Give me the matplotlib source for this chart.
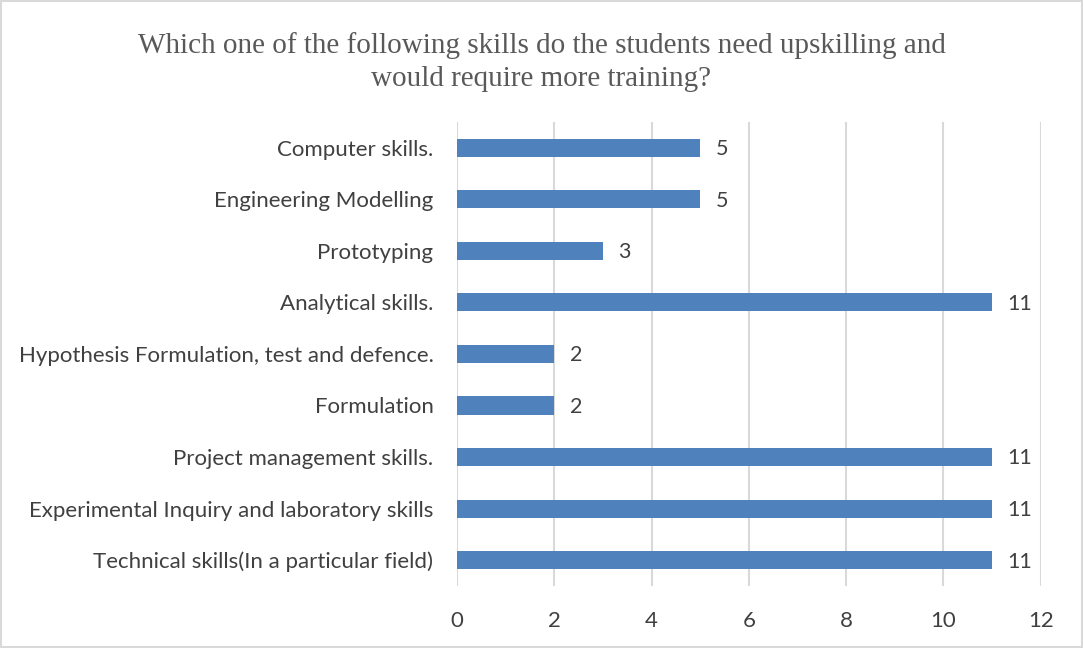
import matplotlib.pyplot as plt
from matplotlib.patches import Rectangle

skills = [
    "Technical skills(In a particular field)",
    "Experimental Inquiry and laboratory skills",
    "Project management skills.",
    "Formulation",
    "Hypothesis Formulation, test and defence.",
    "Analytical skills.",
    "Prototyping",
    "Engineering Modelling",
    "Computer skills.",
]
counts = [11, 11, 11, 2, 2, 11, 3, 5, 5]
xticks = [0, 2, 4, 6, 8, 10, 12]

title = "Which one of the following skills do the students need upskilling and\nwould require more training?"

bar_color = "#4f81bd"
grid_color = "#d9d9d9"
text_color = "#404040"


def main():
    fig = plt.figure(figsize=(10.83, 6.48), dpi=100)
    ax = fig.add_axes([0.422, 0.0957, 0.539, 0.7163])

    pos = range(len(skills))
    ax.barh(pos, counts, height=0.35, color=bar_color, zorder=3)

    for y, v in zip(pos, counts):
        ax.annotate(str(v), (v, y), xytext=(11, -1), textcoords="offset points",
                    va="center", ha="left", fontsize=15.5, color=text_color,
                    family="Lato")

    ax.set_xlim(0, 12)
    ax.set_ylim(-0.5, len(skills) - 0.5)
    ax.set_xticks(xticks)
    ax.set_yticks(list(pos))
    ax.set_yticklabels(skills)
    ax.grid(axis="x", color=grid_color, linewidth=1.5, zorder=0)
    for s in ax.spines.values():
        s.set_visible(False)
    ax.tick_params(axis="both", length=0, labelsize=16, labelcolor=text_color)
    ax.tick_params(axis="x", pad=18)
    ax.tick_params(axis="y", pad=17)
    for lab in ax.get_xticklabels() + ax.get_yticklabels():
        lab.set_family("Lato")

    fig.text(0.5, 0.905, title, ha="center", va="center", fontsize=21,
             family="Liberation Serif", color="#595959", linespacing=1.35)

    # thin frame around the whole chart area
    fig.patches.append(Rectangle((0.001, 0.001), 0.998, 0.997, transform=fig.transFigure,
                                 fill=False, edgecolor=grid_color, linewidth=1.5))

    fig.savefig("out.png", dpi=100)


if __name__ == "__main__":
    main()
